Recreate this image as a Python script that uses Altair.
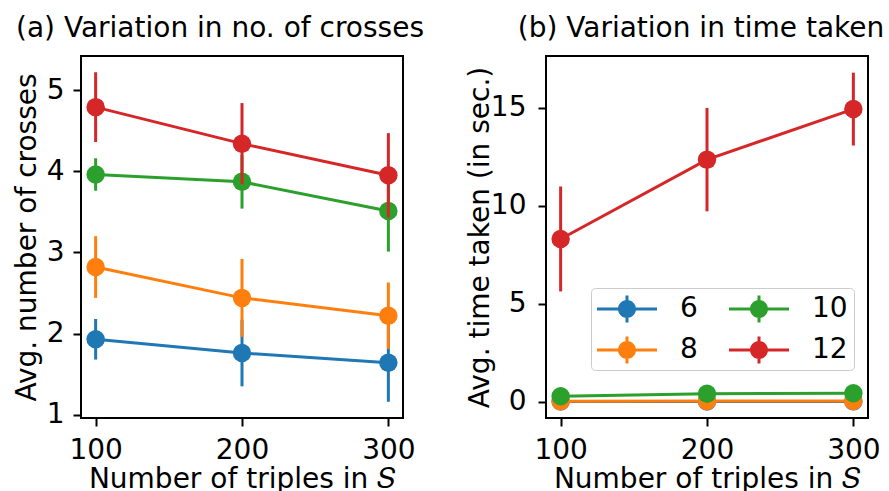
import altair as alt
import pandas as pd

# Number of triples in S (x positions shared by both panels)
triples = [100, 200, 300]
# Series keys and tab10 colours
groups = ["6", "8", "10", "12"]
colors = ["#1f77b4", "#ff7f0e", "#2ca02c", "#d62728"]

# (a) average number of crosses, with error half-widths
crosses_mean = {
    "6": [1.93, 1.76, 1.64],
    "8": [2.82, 2.44, 2.22],
    "10": [3.96, 3.87, 3.51],
    "12": [4.79, 4.34, 3.95],
}
crosses_err = {
    "6": [0.25, 0.41, 0.48],
    "8": [0.38, 0.48, 0.41],
    "10": [0.20, 0.33, 0.50],
    "12": [0.43, 0.50, 0.52],
}

# (b) average time taken in seconds, with error half-widths
time_mean = {
    "6": [0.005, 0.007, 0.008],
    "8": [0.02, 0.03, 0.03],
    "10": [0.27, 0.40, 0.42],
    "12": [8.30, 12.35, 14.93],
}
time_err = {
    "6": [0.004, 0.005, 0.006],
    "8": [0.01, 0.015, 0.015],
    "10": [0.05, 0.06, 0.06],
    "12": [2.68, 2.64, 1.86],
}


def long_table(means, errs):
    rows = []
    for g in groups:
        for x, m, e in zip(triples, means[g], errs[g]):
            rows.append({"triples": x, "k": g, "mean": m, "lo": m - e, "hi": m + e})
    return pd.DataFrame(rows)


FONT = "DejaVu Sans"
FS = 28
# legend handle: horizontal line, vertical error bar and a filled circle
HANDLE = (
    "M-1,-0.1H3V0.1H-1Z"
    "M0.9,-0.9H1.1V0.9H0.9Z"
    "M0.4,0A0.6,0.6 0 1,1 1.6,0A0.6,0.6 0 1,1 0.4,0Z"
)

color_scale = alt.Scale(domain=groups, range=colors)

# vertical two-column legend: columns read 6, 8 | 10, 12
legend_b = alt.Legend(
    title=None, orient="none", legendX=45, legendY=232, columns=2,
    symbolType=HANDLE, symbolSize=900, symbolStrokeWidth=0, symbolOpacity=1,
    labelFontSize=FS, labelFont=FONT, labelColor="black", labelOffset=53,
    columnPadding=31, rowPadding=12, padding=6,
    strokeColor="#cccccc", fillColor="rgba(255,255,255,0.8)", cornerRadius=4,
)


def panel(df, title, ytitle, ydomain, yticks, title_dx, ytitle_pad, ylabel_pad, legend):
    x = alt.X("triples:Q", scale=alt.Scale(domain=[90, 310], nice=False, zero=False),
              axis=alt.Axis(values=triples, title="Number of triples in 𝑆"))
    y_axis = alt.Axis(values=yticks, title=ytitle, titlePadding=ytitle_pad,
                      labelPadding=ylabel_pad)
    yscale = alt.Scale(domain=ydomain, nice=False, zero=False)
    color = alt.Color("k:N", scale=color_scale, legend=legend)
    layers = []
    for g in groups:
        base = alt.Chart(df).transform_filter(alt.datum.k == g)
        err = base.mark_rule(strokeWidth=3).encode(
            x=x, y=alt.Y("lo:Q", scale=yscale, axis=y_axis), y2="hi:Q", color=color)
        line = base.mark_line(strokeWidth=3).encode(
            x=x, y=alt.Y("mean:Q", scale=yscale, axis=y_axis), color=color)
        pts = base.mark_point(filled=True, size=340, opacity=1).encode(
            x=x, y=alt.Y("mean:Q", scale=yscale, axis=y_axis), color=color)
        layers += [err, line, pts]
    return alt.layer(*layers).properties(
        width=322, height=362,
        title=alt.TitleParams(title, fontSize=FS, font=FONT, fontWeight="normal",
                              anchor="middle", frame="group", dx=title_dx,
                              baseline="bottom", offset=-15, color="black"),
    )


left = panel(long_table(crosses_mean, crosses_err), "(a) Variation in no. of crosses",
             "Avg. number of crosses", [0.96, 5.42], [1, 2, 3, 4, 5], -22, 5, 9, None)
right = panel(long_table(time_mean, time_err), "(b) Variation in time taken",
              "Avg. time taken (in sec.)", [-0.84, 17.64], [0, 5, 10, 15], -6, -4, 12, legend_b)

chart = (
    alt.hconcat(left, right, spacing=40)
    .resolve_scale(color="independent")
    .resolve_legend(color="independent")
    .properties(padding={"left": 12, "top": 14, "right": 1, "bottom": 0})
    .configure_view(stroke="black", strokeWidth=2)
    .configure_axis(
        domain=False, grid=False, ticks=True, tickColor="black", tickWidth=2, tickSize=8,
        labelFont=FONT, labelFontSize=FS, labelColor="black",
        titleFont=FONT, titleFontSize=FS, titleFontWeight="normal", titleColor="black",
    )
    .configure_axisX(labelPadding=10, titlePadding=1)
)

chart.save("out.html", embed_options={"renderer": "svg", "actions": False})
